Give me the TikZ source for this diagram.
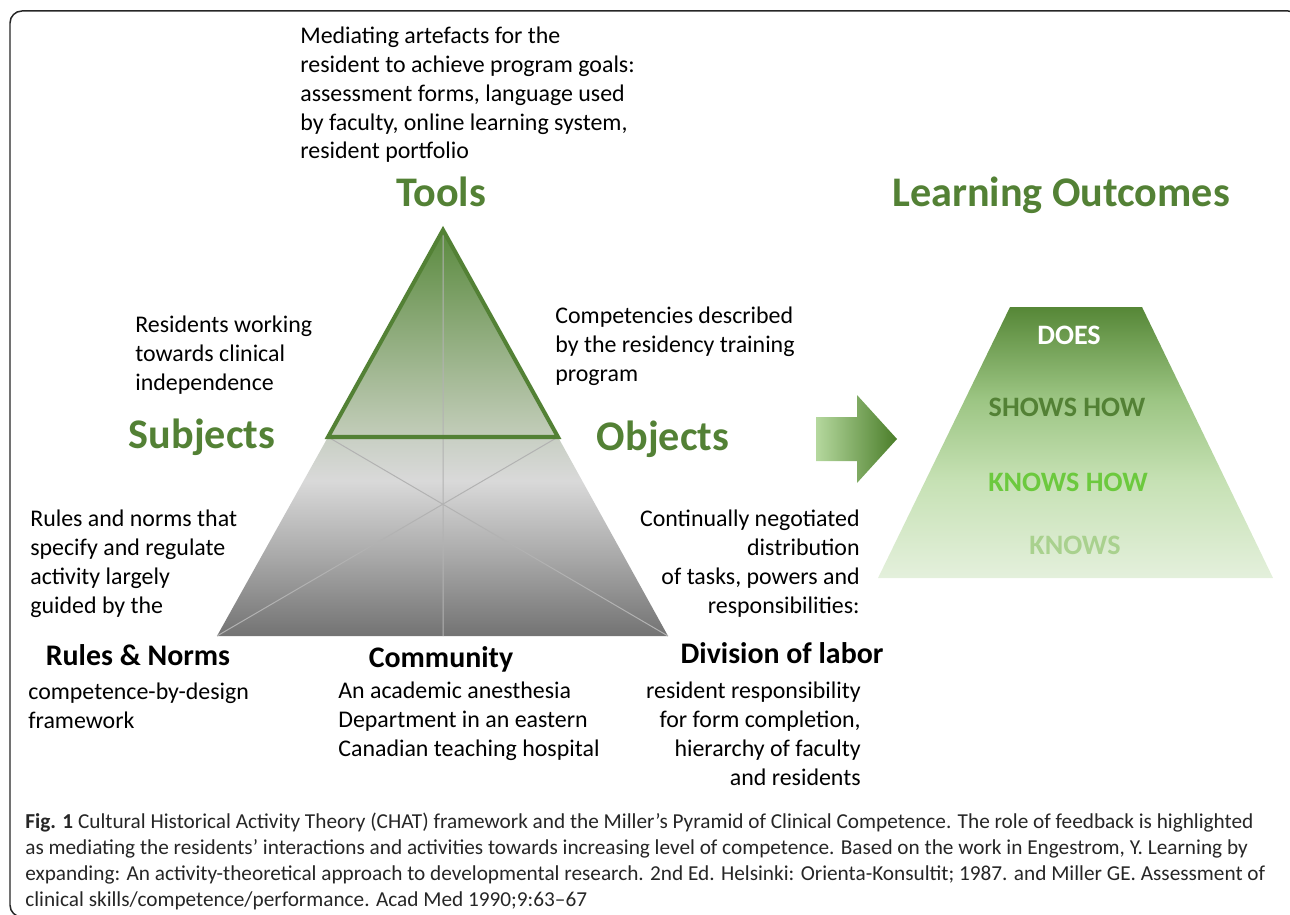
\documentclass[tikz,border=0pt]{standalone}
\usepackage{fontspec}
\setmainfont{Carlito}
\usepackage{tikz}
\usetikzlibrary{positioning}
\definecolor{chatgreen}{HTML}{538135}
\definecolor{apexgreen}{HTML}{5A8A3E}
\definecolor{basegreen}{HTML}{C3CDBA}
\definecolor{lowtop}{HTML}{C8CFC3}
\definecolor{lowlight}{HTML}{D9D9D9}
\definecolor{lowmid}{HTML}{A9A9A9}
\definecolor{lowbot}{HTML}{737373}
\definecolor{mtop}{HTML}{568737}
\definecolor{mmid}{HTML}{9CC583}
\definecolor{mlow}{HTML}{C6E1B4}
\definecolor{mbot}{HTML}{E4F0DC}
\definecolor{arrowlight}{HTML}{B5D89E}
\definecolor{arrowdark}{HTML}{4A7D29}
\definecolor{knowshow}{HTML}{6CC93E}
\definecolor{knows}{HTML}{A9D18E}
\pgfdeclareverticalshading{chatlow}{100bp}{color(0bp)=(lowbot); color(25bp)=(lowbot); color(45bp)=(lowmid); color(64bp)=(lowlight); color(75bp)=(lowtop); color(100bp)=(lowtop)}
\pgfdeclareverticalshading{miller}{100bp}{color(0bp)=(mbot); color(25bp)=(mbot); color(43bp)=(mlow); color(58bp)=(mmid); color(75bp)=(mtop); color(100bp)=(mtop)}

\begin{document}
\begin{tikzpicture}[x=0.02cm,y=-0.02cm,
	body/.style={font=\fontsize{13.6}{16.5}\selectfont,inner sep=0},
	title/.style={font=\fontsize{24}{28}\selectfont\bfseries,text=chatgreen,inner sep=0,anchor=base},
	corner/.style={font=\fontsize{17}{20}\selectfont\bfseries,inner sep=0,anchor=base},
	level/.style={font=\fontsize{16}{19}\selectfont\bfseries,inner sep=0,anchor=base}]
	\useasboundingbox (0,0) rectangle (1290,915);
	\clip (0,0) rectangle (1290,915);
	\draw[line width=0.85pt,rounded corners=6.8pt,black!85] (10,11) rectangle (1300,917);

	\coordinate (apex) at (443,230);
	\coordinate (bl) at (217,636);
	\coordinate (br) at (668,636);
	\coordinate (bm) at (443,636);
	\coordinate (ml) at (328,437);
	\coordinate (mr) at (558,437);
	\shade[shading=chatlow] (ml) -- (mr) -- (br) -- (bl) -- cycle;
	\shade[top color=apexgreen,bottom color=basegreen] (apex) -- (mr) -- (ml) -- cycle;
	\draw[black!30,line width=0.57pt] (apex) -- (bm) (ml) -- (br) (mr) -- (bl);
	\draw[chatgreen,line width=2.3pt,line join=miter] (apex) -- (mr) -- (ml) -- cycle;

	\shade[left color=arrowlight,right color=arrowdark] (816,417) -- (857,417) -- (857,395) -- (897,439) -- (857,483) -- (857,461) -- (816,461) -- cycle;
	\shade[shading=miller] (1010,307) -- (1142,307) -- (1273,578) -- (878,578) -- cycle;

	\node[title] (tools) at (441,207) {Tools};
	\node[title] (outcomes) at (1061,207) {Learning Outcomes};
	\node[title] (subjects) at (202,448) {Subjects};
	\node[title] (objects) at (663,450) {Objects};

	\node[level,text=white] (does) at (1069,344) {DOES};
	\node[level,text=chatgreen] (showshow) at (1067,416) {SHOWS HOW};
	\node[level,text=knowshow] (knowshow) at (1068,491) {KNOWS HOW};
	\node[level,text=knows] (knows) at (1075,554) {KNOWS};

	\node[corner] (rules) at (138,665) {Rules \& Norms};
	\node[corner] (community) at (441,667) {Community};
	\node[corner] (division) at (782,663) {Division of labor};

	\node[body,align=left,anchor=base west] (toolsnote) at (300,159) {Mediating artefacts for the\\resident to achieve program goals:\\assessment forms, language used\\by faculty, online learning system,\\resident portfolio};
	\node[body,align=left,anchor=base west] (subjnote) at (135,390) {Residents working\\towards clinical\\independence};
	\node[body,align=left,anchor=base west] (objnote) at (555,381) {Competencies described\\by the residency training\\program};
	\node[body,align=left,anchor=base west] (rulesnote) at (30,613) {Rules and norms that\\specify and regulate\\activity largely\\guided by the};
	\node[body,align=right,anchor=base east] (divnote) at (860,613) {Continually negotiated\\distribution\\of tasks, powers and\\responsibilities:};
	\node[body,align=left,anchor=base west] (rulesdesc) at (28,728) {competence-by-design\\framework};
	\node[body,align=left,anchor=base west] (commdesc) at (338,756) {An academic anesthesia\\Department in an eastern\\Canadian teaching hospital};
	\node[body,align=right,anchor=base east] (divdesc) at (861,785) {resident responsibility\\for form completion,\\hierarchy of faculty\\and residents};

	\node[font=\fontsize{12.1}{14.8}\selectfont,text=black!85,inner sep=0,align=left,anchor=base west] (caption) at (25,906) {\textbf{Fig. 1} Cultural Historical Activity Theory (CHAT) framework and the Miller’s Pyramid of Clinical Competence. The role of feedback is highlighted\\as mediating the residents’ interactions and activities towards increasing level of competence. Based on the work in Engestrom, Y. Learning by\\expanding: An activity-theoretical approach to developmental research. 2nd Ed. Helsinki: Orienta-Konsultit; 1987. and Miller GE. Assessment of\\clinical skills/competence/performance. Acad Med 1990;9:63--67};
\end{tikzpicture}
\end{document}
